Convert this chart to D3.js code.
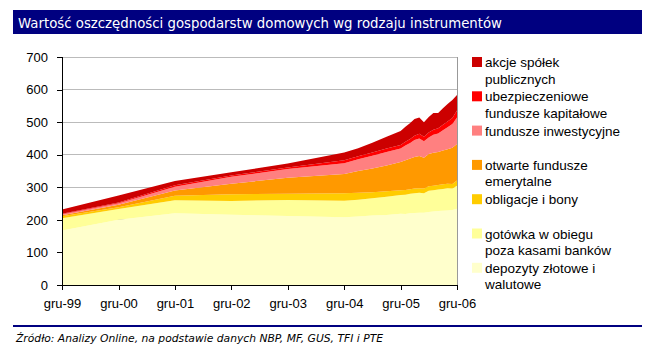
<!DOCTYPE html>
<html><head><meta charset="utf-8">
<script src="https://cdn.jsdelivr.net/npm/d3@7/dist/d3.min.js"></script>
<style>body{margin:0;background:#fff}svg{display:block}</style>
</head><body><svg id="c" width="653" height="355"></svg>
<script>
// ---- data (mld zł) ----
const months = ["1999-12","2000-12","2001-12","2002-12","2003-12","2004-12",
  "2005-03","2005-06","2005-09","2005-12",
  "2006-01","2006-02","2006-03","2006-04","2006-05","2006-06",
  "2006-07","2006-08","2006-09","2006-10","2006-11","2006-12"];
const depozyty     = [167,200,220,216,212,208,210,213,215,219,218,220,221,222,222,224,226,227,228,229,230,234];
const gotowka      = [ 38, 33, 40, 42, 49, 51, 52, 53, 56, 57, 59, 60, 61, 61, 60, 65, 65, 66, 67, 68, 66, 71];
const obligacje    = [  6,  6, 14, 21, 19, 23, 21, 19, 17, 15, 15, 14, 14, 14, 14, 14, 14, 14, 14, 14, 14, 16];
const ofe          = [  3,  7, 16, 32, 49, 59, 67, 73, 79, 87, 91, 94, 97, 99, 95, 99,101,101,104,106,111,112];
const inwestycyjne = [  3,  5, 12, 21, 27, 33, 36, 39, 41, 41, 45, 48, 52, 54, 50, 51, 55, 57, 62, 67, 73, 81];
const ubezpieczeniowe = [2,  2,  4,  4,  5,  9,  9, 10, 11, 11, 12, 12, 13, 14, 14, 15, 16, 16, 17, 18, 19, 22];
const akcje        = [ 13, 22, 13, 10, 12, 24, 25, 30, 36, 43, 46, 49, 52, 50, 45, 48, 51, 47, 51, 54, 55, 47];

const seriesKeys  = ["depozyty","gotowka","obligacje","ofe","inwestycyjne","ubezpieczeniowe","akcje"];
const seriesLabels = {
  akcje: ["akcje spółek","publicznych"],
  ubezpieczeniowe: ["ubezpieczeniowe","fundusze kapitałowe"],
  inwestycyjne: ["fundusze inwestycyjne"],
  ofe: ["otwarte fundusze","emerytalne"],
  obligacje: ["obligacje i bony"],
  gotowka: ["gotówka w obiegu","poza kasami banków"],
  depozyty: ["depozyty złotowe i","walutowe"]
};
const seriesColors = {
  depozyty:"#FFFFCC", gotowka:"#FFFF99", obligacje:"#FFCC00", ofe:"#FF9900",
  inwestycyjne:"#FF8080", ubezpieczeniowe:"#FF0000", akcje:"#CC0000"
};
const yTicks = [0,100,200,300,400,500,600,700];
const xTickMonths = ["1999-12","2000-12","2001-12","2002-12","2003-12","2004-12","2005-12","2006-12"];
const xTickLabels = ["gru-99","gru-00","gru-01","gru-02","gru-03","gru-04","gru-05","gru-06"];
const title = "Wartość oszczędności gospodarstw domowych wg rodzaju instrumentów";
const source = "Źródło: Analizy Online, na podstawie danych NBP, MF, GUS, TFI i PTE";

// ---- build ----
const parse = d3.timeParse("%Y-%m");
const values = {depozyty, gotowka, obligacje, ofe, inwestycyjne, ubezpieczeniowe, akcje};
const rows = months.map((m,i)=>{
  const r = {date: parse(m)};
  seriesKeys.forEach(k=> r[k]=values[k][i]);
  return r;
});

const svg = d3.select("#c");
const L=62, R=457, T=57, B=285;
const x = d3.scaleTime().domain([parse(months[0]), parse(months[months.length-1])]).range([L,R]);
const y = d3.scaleLinear().domain([0,700]).range([B,T]);

// title bar
svg.append("rect").attr("x",13).attr("y",10).attr("width",629).attr("height",24).attr("fill","#000080");
svg.append("text").attr("x",18).attr("y",27.5).attr("fill","#fff")
  .attr("font-family","DejaVu Sans, Verdana, sans-serif").attr("font-size",14.5)
  .attr("textLength",484).attr("lengthAdjust","spacingAndGlyphs")
  .text(title);

// gridlines
svg.append("g").selectAll("line").data(yTicks.filter(t=>t>0)).join("line")
  .attr("x1",L).attr("x2",R).attr("y1",d=>y(d)).attr("y2",d=>y(d))
  .attr("stroke","#BBBBBB").attr("stroke-width",1).attr("shape-rendering","crispEdges");
svg.append("line").attr("x1",R).attr("x2",R).attr("y1",T).attr("y2",B)
  .attr("stroke","#999").attr("shape-rendering","crispEdges");

// areas
const stack = d3.stack().keys(seriesKeys);
const layers = stack(rows);
const area = d3.area().x(d=>x(d.data.date)).y0(d=>y(d[0])).y1(d=>y(d[1]));
svg.append("g").selectAll("path").data(layers).join("path")
  .attr("d",area).attr("fill",d=>seriesColors[d.key]);

// axes
const yAxis = d3.axisLeft(y).tickValues(yTicks).tickSize(5).tickPadding(9);
const gy = svg.append("g").attr("transform",`translate(${L},0)`).call(yAxis);
const xAxis = d3.axisBottom(x).tickValues(xTickMonths.map(parse))
  .tickFormat((d,i)=>xTickLabels[i]).tickSize(5).tickPadding(9);
const gx = svg.append("g").attr("transform",`translate(0,${B})`).call(xAxis);
[gx,gy].forEach(g=>{
  g.select(".domain").attr("stroke","#000").attr("shape-rendering","crispEdges");
  g.selectAll(".tick line").attr("stroke","#000").attr("shape-rendering","crispEdges");
  g.selectAll("text").attr("font-family","Liberation Sans, Arial, sans-serif").attr("font-size",13).attr("fill","#000");
});
gy.select(".domain").attr("d",`M0,${B}V${T}`);
gx.select(".domain").attr("d",`M${L},0H${R}`);

// legend
const legendOrder = seriesKeys.slice().reverse();
const lg = svg.append("g");
legendOrder.forEach((k,i)=>{
  const by = 67 + i*34.3;
  lg.append("rect").attr("x",472).attr("y",by-10).attr("width",10).attr("height",10).attr("fill",seriesColors[k]);
  seriesLabels[k].forEach((t,j)=>{
    lg.append("text").attr("x",485).attr("y",by+j*16.5)
      .attr("font-family","Liberation Sans, Arial, sans-serif").attr("font-size",13.5).attr("fill","#000").text(t);
  });
});

// footer
svg.append("line").attr("x1",13).attr("x2",642).attr("y1",326).attr("y2",326)
  .attr("stroke","#000080").attr("stroke-width",2);
svg.append("text").attr("x",16).attr("y",342).attr("font-style","italic")
  .attr("font-family","DejaVu Sans, Verdana, sans-serif").attr("font-size",10.5).attr("fill","#000")
  .attr("textLength",367).attr("lengthAdjust","spacingAndGlyphs")
  .text(source);
</script></body></html>
